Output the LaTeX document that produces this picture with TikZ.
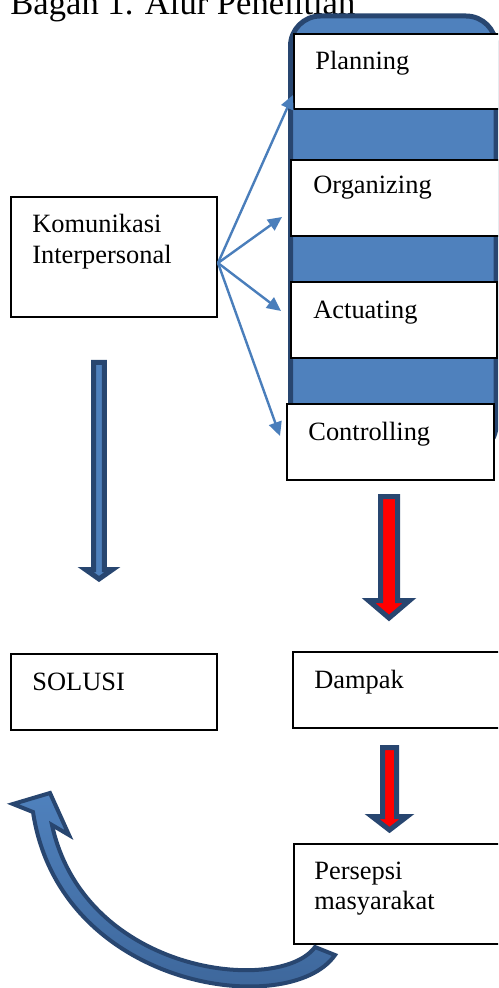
\documentclass[tikz,border=0pt]{standalone}
\usepackage{fontspec}
\setmainfont{Liberation Serif}
\usetikzlibrary{arrows.meta,fit}
\definecolor{fillblue}{HTML}{4F81BD}
\definecolor{navy}{HTML}{284670}
\definecolor{linkblue}{HTML}{4A7EBB}
\definecolor{curvebot}{HTML}{3B6396}
\begin{document}
\begin{tikzpicture}[x=0.5pt,y=-0.5pt,
  box/.style={draw=black,line width=1pt,fill=white,inner sep=0pt},
  lbl/.style={inner sep=0pt,anchor=base west,font=\fontsize{13.2}{16}\selectfont},
  link/.style={draw=linkblue,line width=1.2pt,-{Triangle[length=7pt,width=6.5pt]}},
  block/.style={draw=navy,line width=2.5pt,line join=miter}]
\useasboundingbox (0,0) rectangle (498,988);
\clip (0,0) rectangle (498,988);

\node[lbl,font=\fontsize{17.3}{20}\selectfont] (title) at (10,15) {Bagan 1. Alur Penelitian};

% background panel
\node[draw=navy,fill=fillblue,line width=2.5pt,rounded corners=15pt,inner sep=0pt,
      fit={(290.5,16) (496,455)}] (panel) {};

% boxes
\node[box,fit={(11,197) (217,317)}] (komu) {};
\node[box,fit={(294,34) (505,109)}] (plan) {};
\node[box,fit={(291,160) (505,236)}] (org) {};
\node[box,fit={(291,282) (497,358)}] (act) {};
\node[box,fit={(287,404) (494,480)}] (ctrl) {};
\node[box,fit={(11,654) (217,730)}] (sol) {};
\node[box,fit={(293,652) (505,728)}] (dmp) {};
\node[box,fit={(294,844) (505,944)}] (pers) {};

% labels
\node[lbl] (tkom) at (32,233) {Komunikasi};
\node[lbl] (tint) at (32,264) {Interpersonal};
\node[lbl] (tplan) at (315,70) {Planning};
\node[lbl] (torg) at (313,194) {Organizing};
\node[lbl] (tact) at (313,319) {Actuating};
\node[lbl] (tctrl) at (308,440) {Controlling};
\node[lbl] (tsol) at (32,690) {SOLUSI};
\node[lbl] (tdmp) at (314,688) {Dampak};
\node[lbl] (tper) at (314,879) {Persepsi};
\node[lbl] (tmas) at (314,909) {masyarakat};

% thin connectors
\coordinate (hub) at ([yshift=-3pt]komu.east);
\coordinate (tipP) at ([yshift=7.5pt]plan.south west);
\coordinate (tipO) at ([xshift=-4pt,yshift=-9.5pt]org.west);
\coordinate (tipA) at ([xshift=-4.5pt,yshift=4.5pt]act.west);
\coordinate (tipC) at ([xshift=-3pt,yshift=3pt]ctrl.west);
\draw[link] (hub) -- (tipP);
\draw[link] (hub) -- (tipO);
\draw[link] (hub) -- (tipA);
\draw[link] (hub) -- (tipC);

% block arrows
\draw[block,fill=fillblue] (93.65,362.5) -- (104.35,362.5) -- (104.35,569.5) -- (112.5,569.5)
  -- (99,579) -- (85.5,569.5) -- (93.65,569.5) -- cycle;
\draw[block,fill=red] (380.5,496.5) -- (397.5,496.5) -- (397.5,600.5) -- (409.5,600.5)
  -- (389,618) -- (368.5,600.5) -- (380.5,600.5) -- cycle;
\draw[block,fill=red] (382.5,747.5) -- (396.5,747.5) -- (396.5,816.5) -- (407,816.5)
  -- (389.5,830) -- (372,816.5) -- (382.5,816.5) -- cycle;

% curved arrow
\path[draw=navy,line width=2pt,line join=miter,top color=fillblue,bottom color=curvebot]
  (315,947) -- (335,955) .. controls (290,1020) and (60,990) .. (33,812)
  -- (13,804) -- (50,793) -- (69,835) -- (52,825)
  .. controls (85,975) and (280,995) .. (315,947) -- cycle;
\end{tikzpicture}
\end{document}
